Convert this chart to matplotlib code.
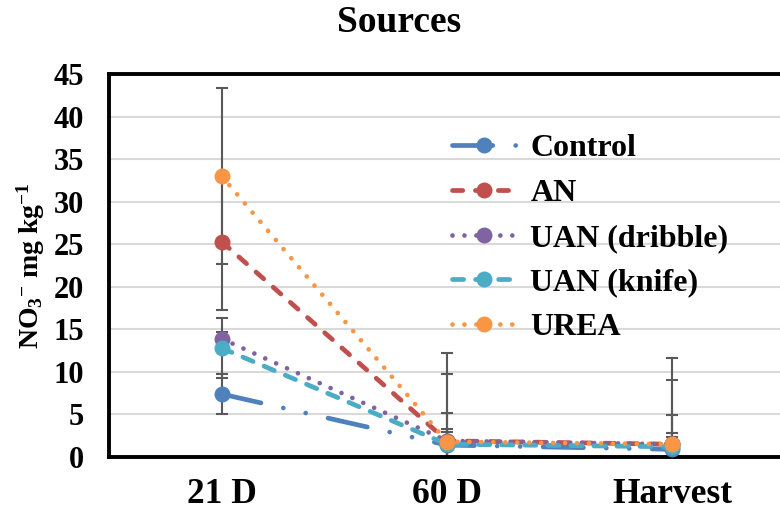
import matplotlib
matplotlib.use("Agg")
import matplotlib.pyplot as plt

# Nitrate by N source at three sampling dates
categories = ["21 D", "60 D", "Harvest"]
series_names = ["Control", "AN", "UAN (dribble)", "UAN (knife)", "UREA"]
control = [7.4, 1.4, 0.9]
an = [25.3, 1.9, 1.5]
uan_dribble = [13.9, 1.9, 1.5]
uan_knife = [12.8, 1.5, 1.2]
urea = [33.0, 1.8, 1.5]

control_err = [2.3, 1.5, 1.4]
an_err = [8.0, 7.9, 7.6]
uan_dribble_err = [0.8, 3.3, 3.4]
uan_knife_err = [3.5, 1.8, 1.6]
urea_err = [10.3, 10.4, 10.1]

y_ticks = [0, 5, 10, 15, 20, 25, 30, 35, 40, 45]

plt.rcParams["font.family"] = ["Liberation Serif", "DejaVu Serif"]
plt.rcParams["font.weight"] = "bold"
plt.rcParams["mathtext.fontset"] = "custom"
plt.rcParams["mathtext.rm"] = "Liberation Serif:bold"
plt.rcParams["mathtext.it"] = "Liberation Serif:bold"
plt.rcParams["mathtext.bf"] = "Liberation Serif:bold"
plt.rcParams["lines.scale_dashes"] = False

fig = plt.figure(figsize=(7.8, 5.11), dpi=100)
ax = fig.add_axes([109 / 780, 54 / 511, 676 / 780, 383 / 511])

x = list(range(len(categories)))
values = [control, an, uan_dribble, uan_knife, urea]
errors = [control_err, an_err, uan_dribble_err, uan_knife_err, urea_err]
colors = ["#4F81BD", "#C0504D", "#8064A2", "#4BACC6", "#F79646"]
dashes = [
    (0, (29, 16.5, 0.01, 16.5, 0.01, 16.5)),
    (0, (7.4, 9.1)),
    (0, (0.01, 8.6)),
    (0, (8.0, 8.6)),
    (0, (0.01, 8.6)),
]

for vals, errs in zip(values, errors):
    ax.errorbar(x, vals, yerr=errs, fmt="none", ecolor="#595959",
                elinewidth=1.5, capsize=4.3, capthick=1.5, zorder=2)

for name, vals, col, ls in zip(series_names, values, colors, dashes):
    ax.plot(x, vals, color=col, linestyle=ls, linewidth=3.4,
            dash_capstyle="round", solid_capstyle="round",
            marker="o", markersize=11.5, markeredgewidth=0,
            label=name, zorder=3)

ax.set_xlim(-0.5, 2.5)
ax.set_ylim(0, 45)
ax.set_yticks(y_ticks)
ax.set_xticks(x)
ax.set_xticklabels(categories)
ax.tick_params(axis="both", length=0)
ax.tick_params(axis="x", pad=15, labelsize=25.5)
ax.tick_params(axis="y", pad=18, labelsize=22)
for lab in ax.get_xticklabels() + ax.get_yticklabels():
    lab.set_fontweight("bold")

ax.grid(axis="y", color="#D9D9D9", linewidth=1.5, zorder=0)
ax.set_axisbelow(True)
for side in ["top", "left", "bottom", "right"]:
    ax.spines[side].set_color("black")
    ax.spines[side].set_linewidth(2.8)

ax.set_ylabel(r"NO$_3$$^{-}$ mg kg$^{-1}$", fontsize=20, fontweight="bold")
ax.yaxis.set_label_coords((47 - 109) / 676, 0.5)

fig.text(399 / 780, 1 - 22 / 511, "Sources", ha="center", va="center",
         fontsize=27, fontweight="bold")

leg = ax.legend(loc="upper left",
                bbox_to_anchor=((452 - 109) / 676, (457 - 134) / 383),
                frameon=False, fontsize=23, handlelength=2.0, handletextpad=0.45,
                labelspacing=0.48, borderpad=0, borderaxespad=0)
for t in leg.get_texts():
    t.set_fontweight("bold")

fig.savefig("out.png", dpi=100)
